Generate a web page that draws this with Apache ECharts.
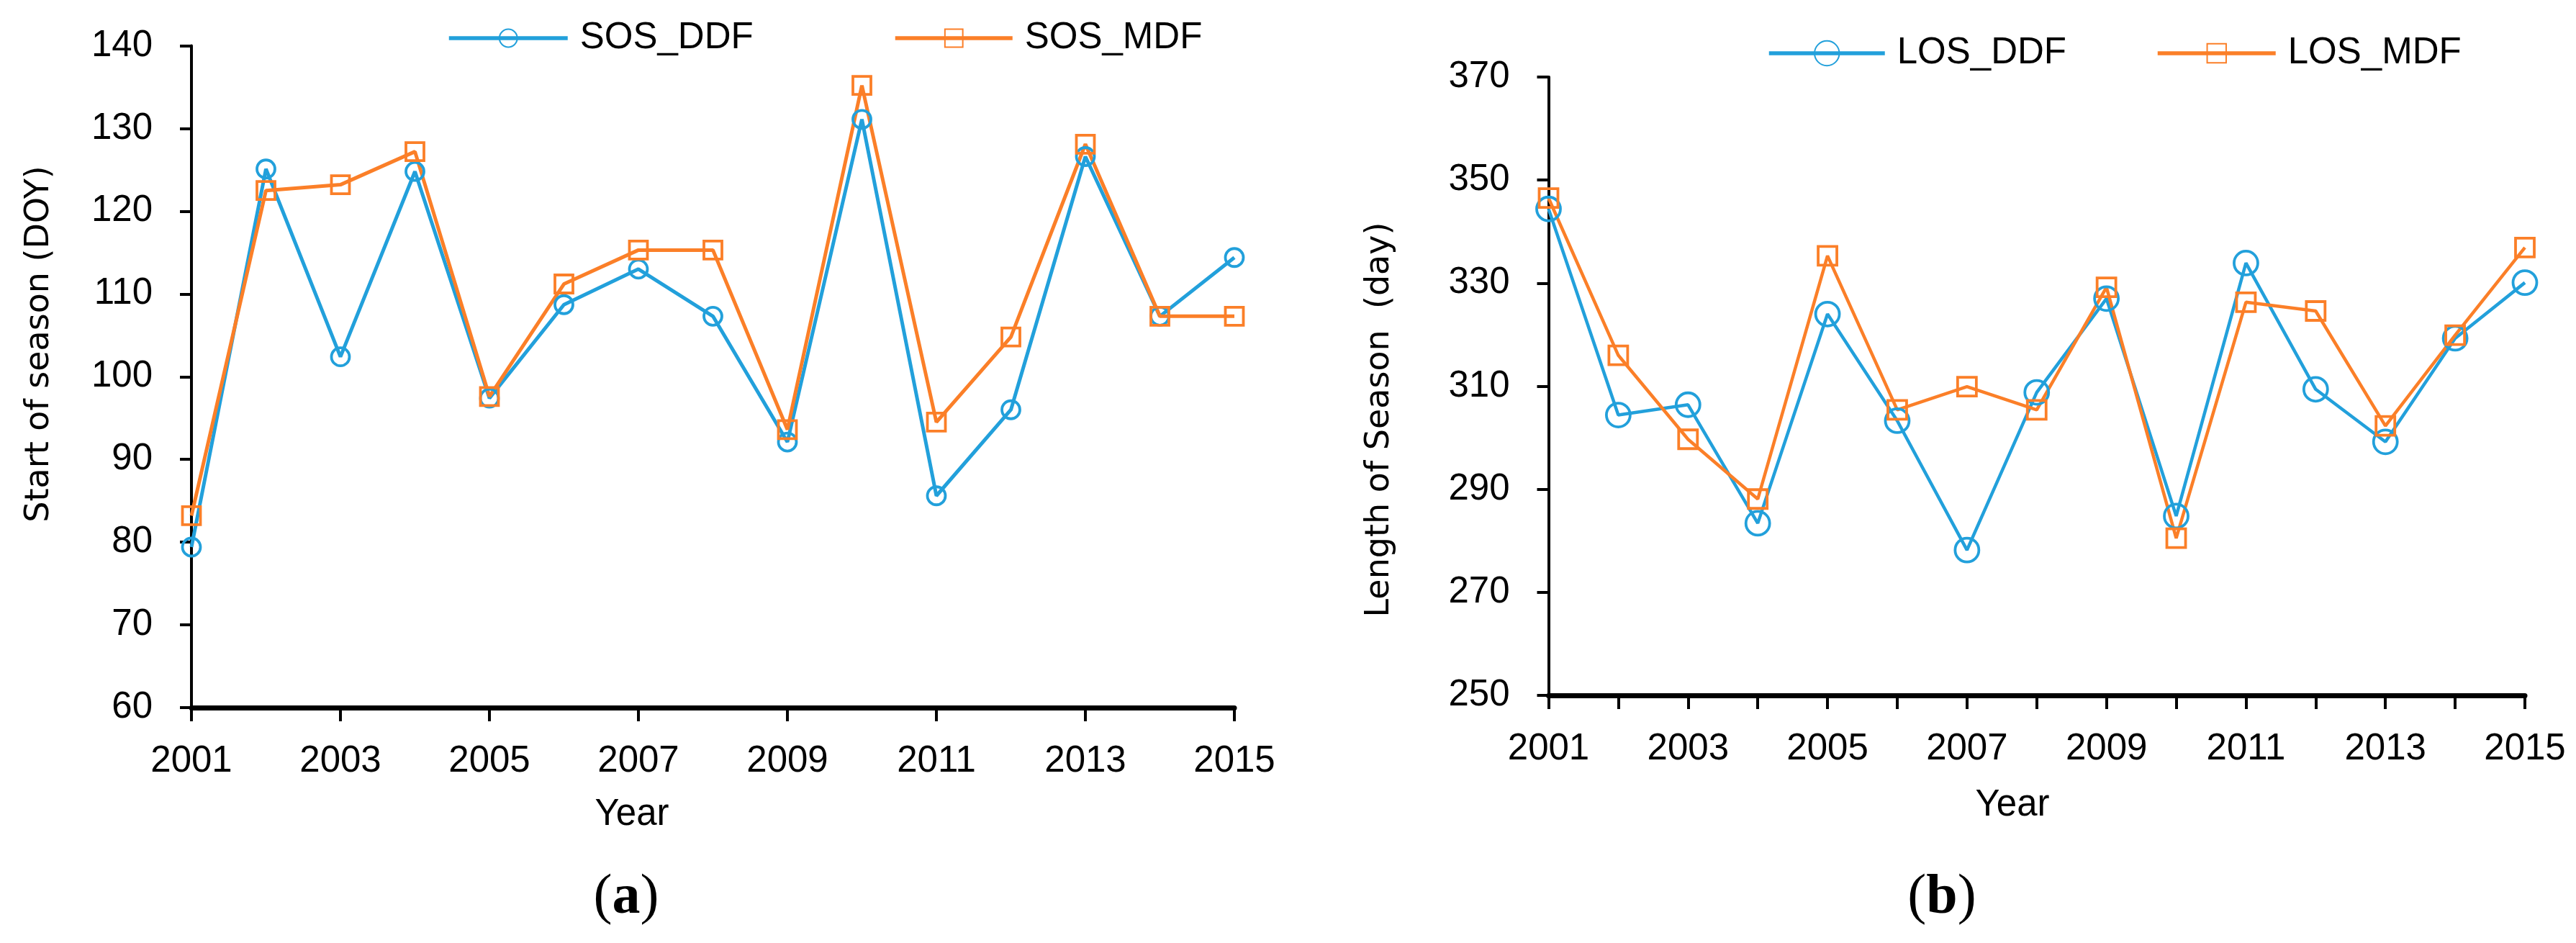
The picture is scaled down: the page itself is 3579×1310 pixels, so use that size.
<!DOCTYPE html>
<html>
<head>
<meta charset="utf-8">
<script src="https://cdn.jsdelivr.net/npm/echarts@6/dist/echarts.min.js"></script>
<style>
html,body{margin:0;padding:0;background:#fff;}
#chart{width:3579px;height:1310px;}
</style>
</head>
<body>
<div id="chart"></div>
<script>
// ---- data ----
const years = ['2001','2002','2003','2004','2005','2006','2007','2008','2009','2010','2011','2012','2013','2014','2015'];
const sosDDF = [79.4, 125.1, 102.4, 124.8, 97.4, 108.7, 113.0, 107.3, 92.1, 131.1, 85.6, 96.0, 126.6, 107.3, 114.4];
const sosMDF = [83.2, 122.5, 123.2, 127.2, 97.6, 111.2, 115.3, 115.3, 93.6, 135.2, 94.5, 104.8, 128.1, 107.3, 107.3];
const losDDF = [344.4, 304.4, 306.4, 283.4, 324.0, 303.3, 278.2, 308.8, 327.0, 284.8, 333.9, 309.4, 299.2, 319.3, 330.1];
const losMDF = [346.5, 316.0, 299.7, 288.1, 335.3, 305.4, 309.9, 305.4, 329.2, 280.5, 326.3, 324.6, 302.3, 319.9, 336.9];
const yTicksA = [60, 70, 80, 90, 100, 110, 120, 130, 140];
const yTicksB = [250, 270, 290, 310, 330, 350, 370];

const BLUE = '#22A0DB';
const ORANGE = '#FB7F28';
const TICKFONT = 'Liberation Sans';
const labelStyle = {fontFamily: TICKFONT, fontSize: 51, color: '#000'};

function xAxis(gi, tickInterval) {
  return {
    gridIndex: gi, type: 'category', data: years, boundaryGap: false,
    axisLine: {show: true, onZero: false, lineStyle: {color: '#000', width: 7}},
    axisTick: {show: true, interval: tickInterval, length: 19, lineStyle: {color: '#000', width: 4}},
    axisLabel: Object.assign({interval: 1, margin: 49}, labelStyle),
    splitLine: {show: false}
  };
}
function yAxis(gi, ticks) {
  return {
    gridIndex: gi, type: 'value', min: ticks[0], max: ticks[ticks.length - 1],
    axisLine: {show: true, lineStyle: {color: '#000', width: 4}},
    axisTick: {show: true, length: 16, customValues: ticks, lineStyle: {color: '#000', width: 4}},
    axisLabel: Object.assign({margin: 54, customValues: ticks}, labelStyle),
    splitLine: {show: false}
  };
}
function lineSeries(name, data, gi, color, symbol, size, lw) {
  return {
    name: name, type: 'line', xAxisIndex: gi, yAxisIndex: gi, data: data,
    color: color, symbol: symbol, symbolSize: size, showAllSymbol: true,
    lineStyle: {color: color, width: lw},
    itemStyle: {color: 'rgba(255,255,255,0)', borderColor: color, borderWidth: 3.8},
    z: 3, animation: false
  };
}
function legend(name, left, cy, w, h) {
  return {
    data: [name], left: left, top: cy - 25.5, padding: 0,
    itemWidth: w, itemHeight: h, selectedMode: false,
    lineStyle: {width: 5.5},
    textStyle: {fontFamily: TICKFONT, fontSize: 51, color: '#000', padding: [0, 0, 0, 12]}
  };
}

const chart = echarts.init(document.getElementById('chart'), null, {renderer: 'canvas'});
chart.setOption({
  backgroundColor: '#fff',
  animation: false,
  grid: [
    {left: 266, top: 63.5, width: 1449, height: 919.5},
    {left: 2151.5, top: 107, width: 1356.5, height: 859}
  ],
  xAxis: [xAxis(0, 1), xAxis(1, 0)],
  yAxis: [yAxis(0, yTicksA), yAxis(1, yTicksB)],
  legend: [
    legend('SOS_DDF', 621, 53, 165, 31),
    legend('SOS_MDF', 1241, 53, 163, 31),
    legend('LOS_DDF', 2455, 74, 161, 43),
    legend('LOS_MDF', 2995, 74, 164, 33)
  ],
  series: [
    lineSeries('SOS_DDF', sosDDF, 0, BLUE, 'circle', 25, 5),
    lineSeries('SOS_MDF', sosMDF, 0, ORANGE, 'rect', 25, 5),
    lineSeries('LOS_DDF', losDDF, 1, BLUE, 'circle', 33, 4.5),
    lineSeries('LOS_MDF', losMDF, 1, ORANGE, 'rect', 26, 4.5)
  ],
  graphic: [
    {type: 'text', x: 55, y: 478, rotation: Math.PI / 2,
     style: {text: 'Start of season (DOY)', fontFamily: 'DejaVu Sans', fontSize: 46, fill: '#000', align: 'center', verticalAlign: 'middle'}},
    {type: 'text', x: 1917, y: 583, rotation: Math.PI / 2,
     style: {text: 'Length of Season  (day)', fontFamily: 'DejaVu Sans', fontSize: 46, fill: '#000', align: 'center', verticalAlign: 'middle'}},
    {type: 'text', x: 878, y: 1132,
     style: {text: 'Year', fontFamily: TICKFONT, fontSize: 51, fill: '#000', align: 'center', verticalAlign: 'middle'}},
    {type: 'text', x: 2796, y: 1119,
     style: {text: 'Year', fontFamily: TICKFONT, fontSize: 51, fill: '#000', align: 'center', verticalAlign: 'middle'}},
    {type: 'text', x: 870, y: 1248,
     style: {text: '{p|(}{b|a}{p|)}', align: 'center', verticalAlign: 'middle',
       rich: {p: {fontFamily: 'Liberation Serif', fontSize: 78, fill: '#000'},
              b: {fontFamily: 'Liberation Serif', fontSize: 78, fontWeight: 'bold', fill: '#000'}}}},
    {type: 'text', x: 2698, y: 1248,
     style: {text: '{p|(}{b|b}{p|)}', align: 'center', verticalAlign: 'middle',
       rich: {p: {fontFamily: 'Liberation Serif', fontSize: 78, fill: '#000'},
              b: {fontFamily: 'Liberation Serif', fontSize: 78, fontWeight: 'bold', fill: '#000'}}}}
  ]
});
</script>
</body>
</html>
